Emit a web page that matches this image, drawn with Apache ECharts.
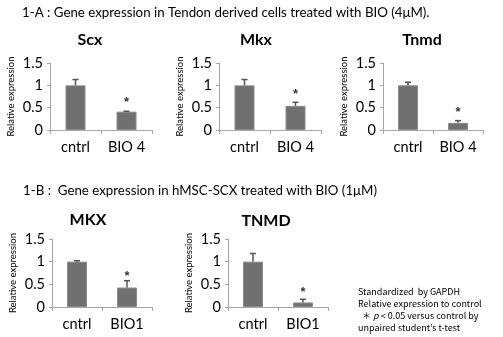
<!DOCTYPE html>
<html>
<head>
<meta charset="utf-8">
<script src="https://cdn.jsdelivr.net/npm/echarts@6/dist/echarts.min.js"></script>
<style>
  html, body { margin: 0; padding: 0; background: #fff; }
  #chart { width: 503px; height: 337px; }
</style>
</head>
<body>
<div id="chart"></div>
<script>
// Tick labels and categories
const catsA = ['cntrl', 'BIO 4'];
const catsB = ['cntrl', 'BIO1'];
const yTicks = [0, 0.5, 1, 1.5];

// Relative expression (mean) and error (upper SD) per gene
const scxVals = [1.0, 0.41];
const scxErr = [0.13, 0.01];
const scxStar = [null, 0.69];

const mkxVals = [1.0, 0.54];
const mkxErr = [0.13, 0.08];
const mkxStar = [null, 0.86];

const tnmdVals = [1.0, 0.16];
const tnmdErr = [0.07, 0.05];
const tnmdStar = [null, 0.47];

const mkxBVals = [1.0, 0.43];
const mkxBErr = [0.02, 0.15];
const mkxBStar = [null, 0.74];

const tnmdBVals = [1.0, 0.10];
const tnmdBErr = [0.18, 0.07];
const tnmdBStar = [null, 0.39];

const panels = [
  { title: 'Scx',  cats: catsA, vals: scxVals,  err: scxErr,  star: scxStar,  grid: { left: 50,  top: 63,  width: 102, height: 67 }, tx: 90,  ty: 40 },
  { title: 'Mkx',  cats: catsA, vals: mkxVals,  err: mkxErr,  star: mkxStar,  grid: { left: 219, top: 63,  width: 102, height: 67 }, tx: 256, ty: 40 },
  { title: 'Tnmd', cats: catsA, vals: tnmdVals, err: tnmdErr, star: tnmdStar, grid: { left: 383, top: 63,  width: 100, height: 67 }, tx: 422, ty: 40 },
  { title: 'MKX',  cats: catsB, vals: mkxBVals, err: mkxBErr, star: mkxBStar, grid: { left: 52,  top: 239, width: 100, height: 68 }, tx: 88,  ty: 220 },
  { title: 'TNMD', cats: catsB, vals: tnmdBVals,err: tnmdBErr,star: tnmdBStar,grid: { left: 228, top: 239, width: 100, height: 68 }, tx: 266, ty: 221 }
];

const FONT = 'Lato, "Liberation Sans", sans-serif';
const axisGray = '#a6a6a6';

const option = {
  animation: false,
  grid: [], xAxis: [], yAxis: [], series: [],
  graphic: []
};

panels.forEach((p, i) => {
  option.grid.push(p.grid);
  option.xAxis.push({
    type: 'category', gridIndex: i, data: p.cats,
    axisLine: { lineStyle: { color: axisGray, width: 1 } },
    axisTick: { show: true, length: 4, lineStyle: { color: axisGray } },
    axisLabel: { color: '#000', fontFamily: FONT, fontSize: 14.5, margin: 10 }
  });
  option.yAxis.push({
    type: 'value', gridIndex: i, min: 0, max: 1.5, interval: 0.5,
    name: 'Relative expression', nameLocation: 'middle', nameGap: 34,
    nameTextStyle: { color: '#000', fontFamily: FONT, fontSize: 9.5 },
    axisLine: { show: true, lineStyle: { color: axisGray, width: 1 } },
    axisTick: { show: true, length: 3, lineStyle: { color: axisGray } },
    splitLine: { show: false },
    axisLabel: {
      color: '#000', fontFamily: FONT, fontSize: 14.5, margin: 7,
      formatter: v => yTicks.includes(v) ? String(v) : ''
    }
  });
  // mean bars
  option.series.push({
    type: 'bar', xAxisIndex: i, yAxisIndex: i, data: p.vals,
    barWidth: 20,
    itemStyle: { color: '#707070', borderColor: '#8a8a8a', borderWidth: 1 }
  });
  // upper error bars
  option.series.push({
    type: 'custom', xAxisIndex: i, yAxisIndex: i,
    data: p.vals.map((v, k) => [k, v, v + p.err[k]]),
    renderItem: (params, api) => {
      const base = api.coord([api.value(0), api.value(1)]);
      const top = api.coord([api.value(0), api.value(2)]);
      return {
        type: 'group',
        children: [
          { type: 'line', shape: { x1: base[0], y1: base[1], x2: top[0], y2: top[1] }, style: { stroke: '#555', lineWidth: 1.5 } },
          { type: 'line', shape: { x1: top[0] - 3, y1: top[1], x2: top[0] + 3, y2: top[1] }, style: { stroke: '#555', lineWidth: 1.5 } }
        ]
      };
    },
    z: 3
  });
  // significance markers
  option.series.push({
    type: 'scatter', xAxisIndex: i, yAxisIndex: i,
    data: p.star.map((v, k) => v == null ? null : [k, v]).filter(d => d),
    symbolSize: 0,
    label: {
      show: true, position: 'inside', formatter: '*',
      color: '#000', fontFamily: 'Liberation Sans', fontWeight: 'bold', fontSize: 13,
      offset: [0, 3]
    }
  });
  option.graphic.push({
    type: 'text', x: p.tx, y: p.ty,
    style: { text: p.title, fill: '#000', font: 'bold 16px ' + FONT, textAlign: 'center', textVerticalAlign: 'middle' }
  });
});

option.graphic.push(
  { type: 'text', x: 22, y: 13, style: { text: '1-A : Gene expression in Tendon derived cells treated with BIO (4μM).', fill: '#000', font: '13.3px ' + FONT, textVerticalAlign: 'middle' } },
  { type: 'text', x: 23, y: 191, style: { text: '1-B :  Gene expression in hMSC-SCX treated with BIO (1μM)', fill: '#000', font: '13.3px ' + FONT, textVerticalAlign: 'middle' } },
  {
    type: 'text', x: 358, y: 286,
    style: {
      text: 'Standardized  by GAPDH\nRelative expression to control\n  ＊ {i|p} < 0.05 versus control by\nunpaired student’s t-test',
      rich: { i: { fontStyle: 'italic', fontFamily: '"Noto Sans CJK JP"', fontSize: 9, fill: '#000' } },
      fill: '#000', font: '9px "Noto Sans CJK JP"', lineHeight: 12
    }
  }
);

const chart = echarts.init(document.getElementById('chart'), null, { renderer: 'canvas' });
chart.setOption(option);
</script>
</body>
</html>
